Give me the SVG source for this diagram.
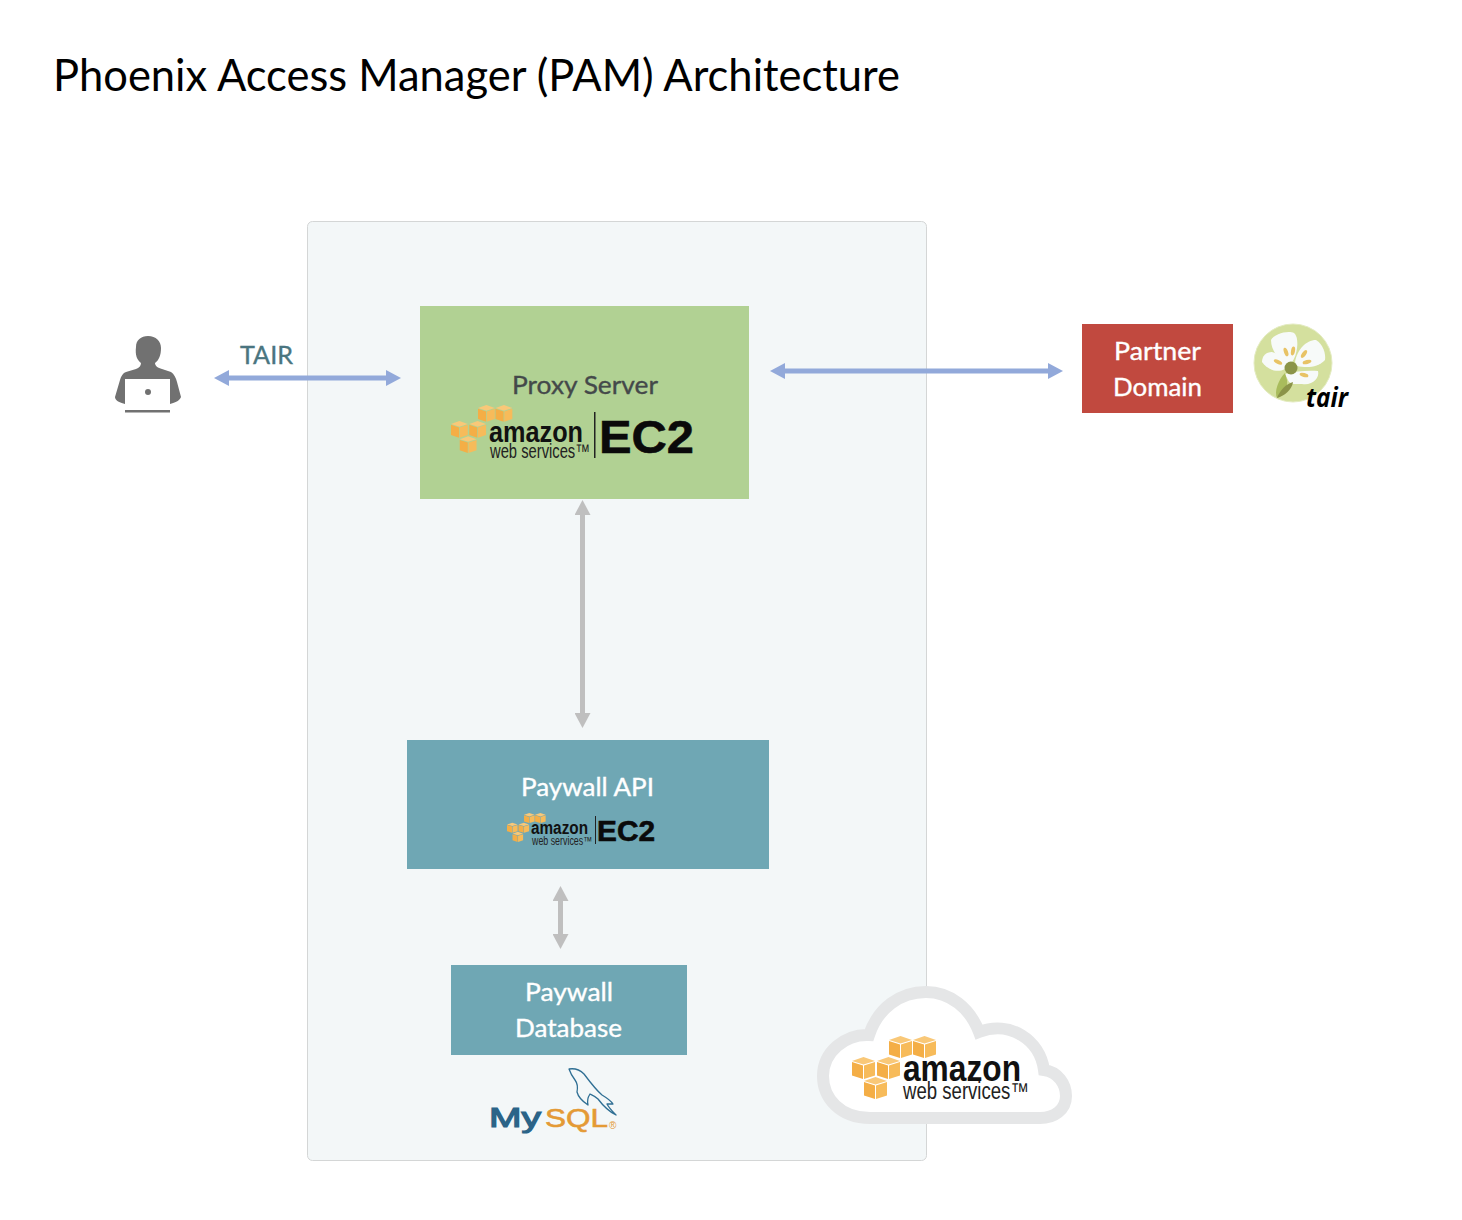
<svg xmlns="http://www.w3.org/2000/svg" xmlns:xlink="http://www.w3.org/1999/xlink" width="1462" height="1220" viewBox="0 0 1462 1220">
<style>
.lb{font-family:"Lato","Open Sans","Liberation Sans",sans-serif;font-size:25px;stroke-width:.35px}
.w{fill:#fff;stroke:#fff}
.am{font-family:"Liberation Sans",Arial,sans-serif;font-weight:700;fill:#111}
.ws{font-family:"Liberation Sans",Arial,sans-serif;font-weight:400;fill:#222}
.ec{font-family:"Liberation Sans",Arial,sans-serif;font-weight:700;fill:#0a0a0a;stroke:#0a0a0a;stroke-width:.6px}
.blue{stroke:#92a9da;stroke-width:5;fill:none;marker-start:url(#hb);marker-end:url(#hb)}
.gray{stroke:#bfbfbf;stroke-width:5;fill:none;marker-start:url(#hg);marker-end:url(#hg)}
</style>
<defs>
<marker id="hb" markerUnits="userSpaceOnUse" markerWidth="16" markerHeight="16" refX="0" refY="8" orient="auto-start-reverse"><path d="M0 0L15 8L0 16Z" fill="#92a9da"/></marker>
<marker id="hg" markerUnits="userSpaceOnUse" markerWidth="16" markerHeight="16" refX="0" refY="8" orient="auto-start-reverse"><path d="M0 0L15 8L0 16Z" fill="#bfbfbf"/></marker>
<g id="cube">
<path d="M0 4L11.500 0L23 4L11.500 7.500Z" fill="#f9c878"/>
<path d="M0 5L11 8.500V22L0 18.500Z" fill="#f4ae46"/>
<path d="M12 8.500L23 5V18.500L12 22Z" fill="#f7bb5a"/>
</g>
<g id="cubes">
<use xlink:href="#cube" href="#cube" x="37" y="0"/>
<use xlink:href="#cube" href="#cube" x="61" y="0"/>
<use xlink:href="#cube" href="#cube" x="0" y="21"/>
<use xlink:href="#cube" href="#cube" x="25" y="21"/>
<use xlink:href="#cube" href="#cube" x="12" y="41"/>
</g>
</defs>
<rect width="1462" height="1220" fill="#fff"/>
<text id="title" x="53" y="91" font-family="Lato,'Open Sans','Liberation Sans',sans-serif" font-size="44" fill="#000" textLength="847" lengthAdjust="spacingAndGlyphs">Phoenix Access Manager (PAM) Architecture</text>
<g id="vpc"><rect x="307.500" y="221.500" width="619" height="939" rx="5" fill="#f3f7f8" stroke="#d4d6d6"/></g>
<g id="proxy">
<rect x="420" y="306" width="329" height="193" fill="#b1d193"/>
<text class="lb" x="512" y="394" fill="#44494a" stroke="#44494a" textLength="146" lengthAdjust="spacingAndGlyphs">Proxy Server</text>
<use xlink:href="#cubes" href="#cubes" transform="translate(451 405) scale(.73 .76)"/>
<text class="am" x="489" y="442" font-size="30" textLength="94" lengthAdjust="spacingAndGlyphs">amazon</text>
<text class="ws" x="490" y="458" font-size="20" textLength="100" lengthAdjust="spacingAndGlyphs">web services™</text>
<rect x="594" y="412" width="1.500" height="46" fill="#222"/>
<text class="ec" x="599" y="453" font-size="47" textLength="95" lengthAdjust="spacingAndGlyphs">EC2</text>
</g>
<g id="paywall-api">
<rect x="407" y="740" width="362" height="129" fill="#6fa7b4"/>
<text class="lb w" x="521" y="796" textLength="133" lengthAdjust="spacingAndGlyphs">Paywall API</text>
<use xlink:href="#cubes" href="#cubes" transform="translate(507 813) scale(.46)"/>
<text class="am" x="531" y="834" font-size="18" textLength="57" lengthAdjust="spacingAndGlyphs">amazon</text>
<text class="ws" x="532" y="845" font-size="12" textLength="60" lengthAdjust="spacingAndGlyphs">web services™</text>
<rect x="595" y="816" width="1" height="28" fill="#222"/>
<text class="ec" x="597" y="841" font-size="29" textLength="58" lengthAdjust="spacingAndGlyphs">EC2</text>
</g>
<g id="paywall-db">
<rect x="451" y="965" width="236" height="90" fill="#6fa7b4"/>
<text class="lb w" x="525" y="1001" textLength="88" lengthAdjust="spacingAndGlyphs">Paywall</text>
<text class="lb w" x="515" y="1037" textLength="107" lengthAdjust="spacingAndGlyphs">Database</text>
</g>
<g id="mysql">
<path d="M569 1069C575 1068 580 1070 584 1074C590 1082 596 1090 602 1095C607 1098 611 1101 613 1104L607 1104C609 1108 613 1112 616 1115C610 1112 604 1107 598 1099C595 1096 592 1095 590 1094C588 1097 587 1101 588 1105C582 1101 578 1096 577 1092C578 1087 578 1084 575 1080C572 1076 570 1072 569 1069Z" fill="none" stroke="#2f6f94" stroke-width="1.300" stroke-linejoin="round"/>
<text x="489" y="1127" font-family="'Liberation Sans',Arial,sans-serif" font-size="27" fill="#2b6488" stroke="#2b6488" stroke-width="1.200" textLength="52" lengthAdjust="spacingAndGlyphs">My</text>
<text x="545" y="1127" font-family="'Liberation Sans',Arial,sans-serif" font-size="26" fill="#e49a35" stroke="#e49a35" stroke-width=".6" textLength="63" lengthAdjust="spacingAndGlyphs">SQL</text>
<text x="609" y="1129" font-family="'Liberation Sans',Arial,sans-serif" font-size="10" fill="#e49a35">®</text>
</g>
<g id="aws-cloud">
<path d="M870 1118C840 1118 823 1098 823 1076C823 1052 845 1034 869 1035C878 1008 900 992 926 992C950 992 970 1008 979 1032C1010 1020 1040 1040 1044 1070C1058 1072 1066 1084 1066 1096C1066 1110 1054 1118 1040 1118Z" fill="#fff" stroke="#e5e6e7" stroke-width="12"/>
<use xlink:href="#cubes" href="#cubes" transform="translate(852 1036)"/>
<text class="am" x="903" y="1081" font-size="36" textLength="118" lengthAdjust="spacingAndGlyphs">amazon</text>
<text class="ws" x="903" y="1099" font-size="23" textLength="126" lengthAdjust="spacingAndGlyphs">web services™</text>
</g>
<g id="user">
<path d="M148 336C156 336 161 341 161 348C161 355 159 360 155 363C155 366 158 368 162 369L171 372C174 374 176 378 177 382L181 397C180 400 177 402 170 404H125C118 402 115 400 115 397L120 380C121 376 123 373 126 372L136 369C139 368 141 366 141 363C137 360 135 355 136 347C136 340 141 336 148 336Z" fill="#717171"/>
<rect x="125" y="379" width="45" height="26" fill="#fff"/>
<circle cx="148" cy="392" r="3" fill="#717171"/>
<rect x="125" y="410" width="45" height="2.500" fill="#717171"/>
</g>
<g id="partner">
<rect x="1082" y="324" width="151" height="89" fill="#c1493f"/>
<text class="lb w" x="1114" y="360" textLength="87" lengthAdjust="spacingAndGlyphs">Partner</text>
<text class="lb w" x="1113" y="396" textLength="89" lengthAdjust="spacingAndGlyphs">Domain</text>
</g>
<g id="tair-logo">
<circle cx="1293" cy="363" r="39" fill="#d4e09e" stroke="#e3ebc0"/>
<path d="M1285 366C1278 358 1271 350 1271 340C1274 334 1288 330 1294 333C1300 338 1297 356 1292 362Z" fill="#f7faf9"/>
<path d="M1295 362C1297 350 1306 340 1316 340C1323 344 1326 354 1325 360C1318 368 1306 368 1297 366Z" fill="#f7faf9"/>
<path d="M1285 369C1276 374 1266 368 1262 362C1262 356 1266 352 1272 352C1278 353 1285 360 1287 365Z" fill="#f7faf9"/>
<path d="M1285 374C1296 371 1310 370 1318 371C1320 378 1312 386 1302 384C1296 384 1290 385 1288 380Z" fill="#f7faf9"/>
<g fill="#e8c365"><ellipse cx="1286" cy="352" rx="2" ry="4.500" transform="rotate(-20 1286 352)"/><ellipse cx="1293" cy="351" rx="2" ry="4.500" transform="rotate(10 1293 351)"/><ellipse cx="1304" cy="354" rx="2" ry="4.500" transform="rotate(35 1304 354)"/><ellipse cx="1307" cy="362" rx="2" ry="4.500" transform="rotate(75 1307 362)"/><ellipse cx="1278" cy="362" rx="2" ry="4.500" transform="rotate(-65 1278 362)"/><ellipse cx="1304" cy="375" rx="2" ry="4.500" transform="rotate(105 1304 375)"/></g>
<circle cx="1291" cy="368" r="6.500" fill="#8b9448"/>
<path d="M1285 373C1278 380 1274 392 1277 398C1284 396 1288 388 1287 380Z" fill="#a9bc5c"/>
<path d="M1277 398C1284 396 1292 390 1293 382C1286 384 1280 390 1277 398Z" fill="#8b9448"/>
<text x="1306" y="407" font-family="'Open Sans','Liberation Sans',sans-serif" font-size="26" font-weight="700" font-style="italic" fill="#000" textLength="42" lengthAdjust="spacingAndGlyphs">tair</text>
</g>
<g id="connectors">
<path class="blue" d="M229 378H386"/>
<path class="blue" d="M785 371H1048"/>
<path class="gray" d="M582.500 515V713"/>
<path class="gray" d="M560.500 901V934"/>
</g>
<text id="tair-label" class="lb" x="240" y="364" fill="#4a7580" stroke="#4a7580" textLength="53" lengthAdjust="spacingAndGlyphs">TAIR</text>
</svg>
